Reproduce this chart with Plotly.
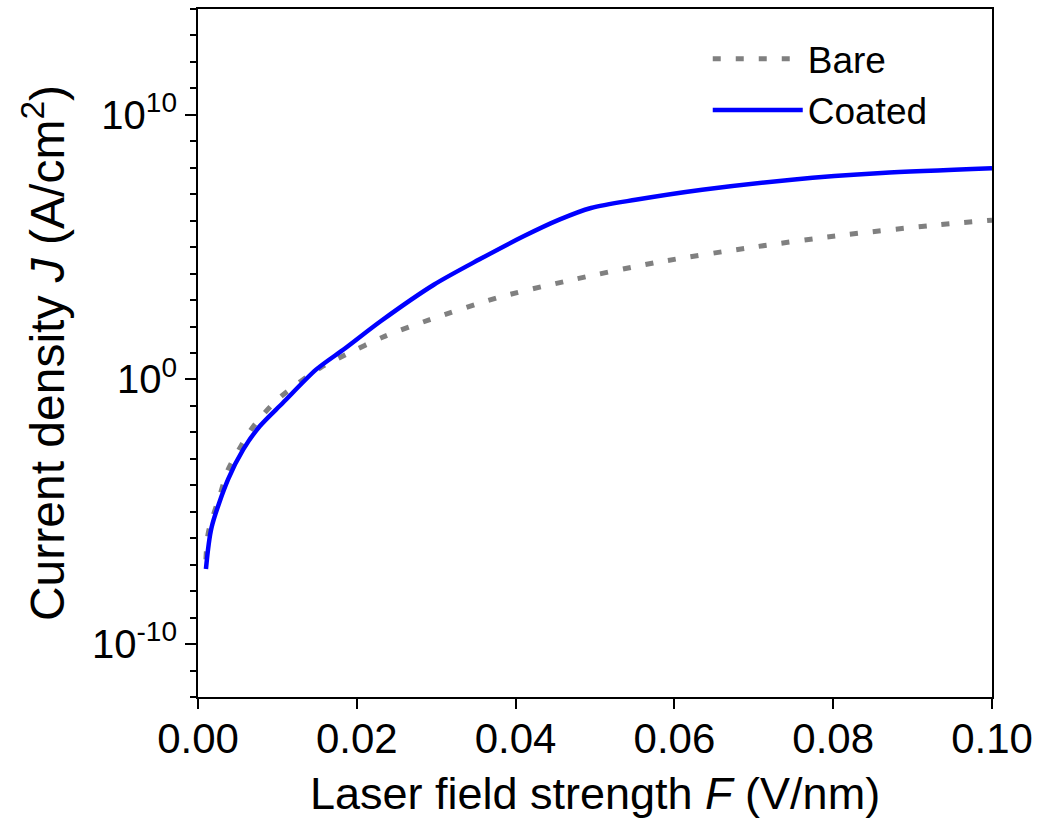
import plotly.graph_objects as go

# Laser field strength F (V/nm)
F_bare = [0.001, 0.0013, 0.0028, 0.0038, 0.0053, 0.0067, 0.0084, 0.0105, 0.0154,
          0.0182, 0.0235, 0.0292, 0.0376, 0.0463, 0.0579, 0.0697, 0.0816, 0.0934, 0.1]
logJ_bare = [-6.8, -5.79, -4.34, -3.4, -2.58, -1.89, -1.26, -0.63, 0.44,
             0.88, 1.63, 2.26, 3.08, 3.71, 4.43, 4.99, 5.47, 5.85, 6.02]

F_coated = [0.001, 0.0017, 0.0038, 0.0057, 0.0078, 0.0107, 0.0149, 0.0185, 0.023,
            0.0297, 0.0354, 0.041, 0.0455, 0.0495, 0.0551, 0.0635, 0.0748, 0.0861, 0.1]
logJ_coated = [-7.16, -5.6, -3.77, -2.64, -1.76, -0.88, 0.38, 1.17, 2.2,
               3.58, 4.53, 5.41, 6.04, 6.48, 6.79, 7.17, 7.55, 7.8, 7.98]

J_bare = [10 ** v for v in logJ_bare]
J_coated = [10 ** v for v in logJ_coated]

x_ticks = [0.0, 0.02, 0.04, 0.06, 0.08, 0.10]
x_ticktext = ["0.00", "0.02", "0.04", "0.06", "0.08", "0.10"]
y_ticks = [1e-10, 1e0, 1e10]
y_ticktext = ["10<sup>-10</sup>", "10<sup>0</sup>", "10<sup>10</sup>"]
y_minor = [10.0 ** k for k in range(-12, 15)]

FONT = "Liberation Sans, Arial, sans-serif"

fig = go.Figure()
fig.add_trace(go.Scatter(x=F_bare, y=J_bare, mode="lines", name="Bare",
                         line=dict(color="#808080", width=5, dash="8px,15px",
                                   shape="spline", smoothing=0.8)))
fig.add_trace(go.Scatter(x=F_coated, y=J_coated, mode="lines", name="Coated",
                         line=dict(color="#0000FF", width=4.5,
                                   shape="spline", smoothing=0.8)))

fig.update_layout(
    width=1040, height=832,
    margin=dict(l=198, r=46, t=7, b=135),
    paper_bgcolor="white", plot_bgcolor="white",
    font=dict(family=FONT, size=40, color="black"),
    showlegend=True,
    legend=dict(x=0.642, y=0.972, xanchor="left", yanchor="top",
                bgcolor="rgba(0,0,0,0)", font=dict(size=37), itemwidth=90),
    xaxis=dict(
        range=[0, 0.1], tickvals=x_ticks, ticktext=x_ticktext,
        ticks="outside", ticklen=10, tickwidth=2, tickcolor="black",
        showline=True, linewidth=2, linecolor="black", mirror=True,
        showgrid=False, zeroline=False, ticklabelstandoff=-6,
        title=dict(text="Laser field strength <i>F</i> (V/nm)", standoff=16,
                   font=dict(size=45)),
        tickfont=dict(size=42),
    ),
    yaxis=dict(
        type="log", range=[-12, 14], tickvals=y_ticks, ticktext=y_ticktext,
        ticks="outside", ticklen=11, tickwidth=2, tickcolor="black",
        minor=dict(tickvals=y_minor, ticks="outside", ticklen=6, tickwidth=2,
                   tickcolor="black", showgrid=False),
        showline=True, linewidth=2, linecolor="black", mirror=True,
        showgrid=False, zeroline=False,
        title=dict(text="Current density <i>J</i> (A/cm<sup>2</sup>)", standoff=12,
                   font=dict(size=48)),
        tickfont=dict(size=40),
    ),
)

fig.write_html("out.html")
